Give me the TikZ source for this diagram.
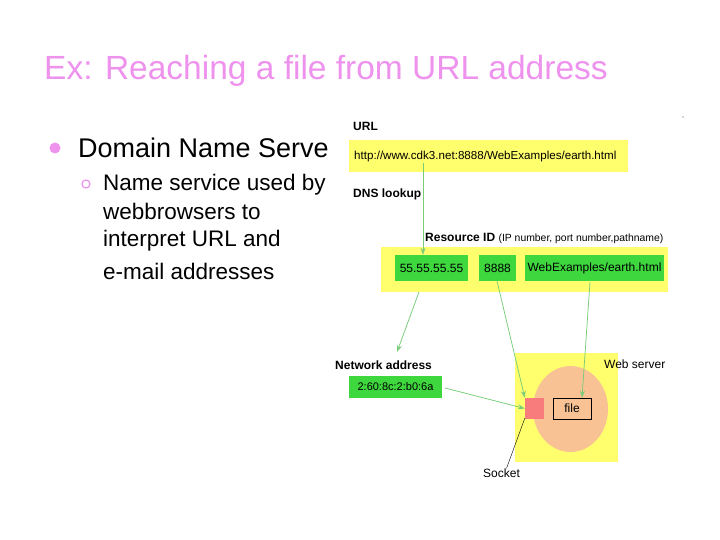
\documentclass[tikz,border=0pt]{standalone}
\usepackage{fontspec}
\setmainfont{Liberation Sans}
\usetikzlibrary{arrows.meta,shapes.geometric}
\definecolor{titlepink}{HTML}{EE92EE}
\definecolor{hlyellow}{HTML}{FFFF6E}
\definecolor{boxgreen}{HTML}{3ED83E}
\definecolor{linegreen}{HTML}{78CC78}
\definecolor{peach}{HTML}{F8C294}
\definecolor{sockred}{HTML}{F87C7C}
\tikzset{
  ylw/.style={fill=hlyellow, draw=none, inner sep=0pt},
  grn/.style={fill=boxgreen, draw=none, inner sep=0pt, font=\fontsize{12}{14}\selectfont},
  lbl/.style={anchor=base west, inner sep=0pt, font=\fontsize{12}{14}\selectfont},
  blbl/.style={lbl, font=\fontsize{12}{14}\selectfont\bfseries},
  garrow/.style={draw=linegreen, line width=0.75pt, -{Stealth[length=7pt,width=5pt,fill=linegreen!80]}},
  body/.style={anchor=base west, inner sep=0pt}
}
\begin{document}
\begin{tikzpicture}[x=1pt,y=-1pt]
\useasboundingbox[fill=white] (0,0) rectangle (720,540);
% title and bullets
\node[body, text=titlepink, font=\fontsize{33.5}{36}\selectfont] (title) at (44,80) {Ex: Reaching a file from URL address};
\fill[titlepink] (55,148) circle (5.5);
\node[body, font=\fontsize{27}{30}\selectfont] (b1) at (78,157.5) {Domain Name Serve};
\draw[titlepink, line width=1.2pt] (86,184) circle (4);
\node[body, font=\fontsize{22.5}{26}\selectfont] (s1) at (103,191) {Name service used by};
\node[body, font=\fontsize{22.5}{26}\selectfont] (s2) at (103,219) {webbrowsers to};
\node[body, font=\fontsize{22.5}{26}\selectfont] (s3) at (103,246) {interpret URL and};
\node[body, font=\fontsize{22.5}{26}\selectfont] (s4) at (103,279) {e-mail addresses};
\fill[gray!60] (683,117) circle (0.8);
% diagram
\node[blbl] (urllbl) at (353,131) {URL};
\node[ylw, minimum width=279, minimum height=32] (urlbox) at (488.5,156) {};
\node[lbl, font=\fontsize{11.6}{14}\selectfont] (urltxt) at (354,160) {http://www.cdk3.net:8888/WebExamples/earth.html};
\node[blbl] (dns) at (353,197) {DNS lookup};
\node[lbl] (resid) at (425,241) {\textbf{Resource ID} {\fontsize{10.4}{12}\selectfont(IP number, port number,pathname)}};
\node[ylw, minimum width=287, minimum height=45] (resbox) at (524.5,269.5) {};
\node[grn, minimum width=73, minimum height=26] (ip) at (431.5,268) {55.55.55.55};
\node[grn, minimum width=37, minimum height=26] (port) at (497.5,268) {8888};
\node[grn, minimum width=139, minimum height=26] (path) at (594.5,268) {WebExamples/earth.html};
\node[blbl] (netlbl) at (335,369) {Network address};
\node[grn, minimum width=93, minimum height=22, font=\fontsize{11}{13}\selectfont] (mac) at (395.5,387) {2:60:8c:2:b0:6a};
\node[ylw, minimum width=103, minimum height=109] (server) at (566.5,407.5) {};
\node[lbl] (serverlbl) at (604,368) {Web server};
\node[fill=peach, ellipse, minimum width=75, minimum height=86, inner sep=0pt] (disk) at (570.5,409) {};
\node[fill=sockred, minimum width=19, minimum height=21, inner sep=0pt] (socket) at (534.5,408.5) {};
\node[draw=black, line width=0.7pt, minimum width=38, minimum height=21, inner sep=0pt, font=\fontsize{12}{14}\selectfont] (file) at (572,408.5) {file};
\node[anchor=center, inner sep=0pt, font=\fontsize{12}{14}\selectfont] (socklbl) at (501.5,473) {Socket};
% connectors
\coordinate (urlstart) at (423,163);
\coordinate (ipstart) at (419,292);
\coordinate (portstart) at (497,281);
\coordinate (pathstart) at (590,282);
\coordinate (macstart) at (445,388);
\draw[garrow] (urlstart) -- (ip.north -| urlstart);
\draw[garrow] (ipstart) -- (397,352) coordinate (netend);
\draw[garrow] (portstart) -- (socket.north west);
\draw[garrow] (pathstart) -- ([xshift=10pt]file.north);
\draw[garrow] (macstart) -- ([yshift=0pt]socket.west);
\draw[black, line width=0.4pt] ([yshift=1pt]socket.south west) -- ([xshift=5pt]socklbl.north);
\end{tikzpicture}
\end{document}
